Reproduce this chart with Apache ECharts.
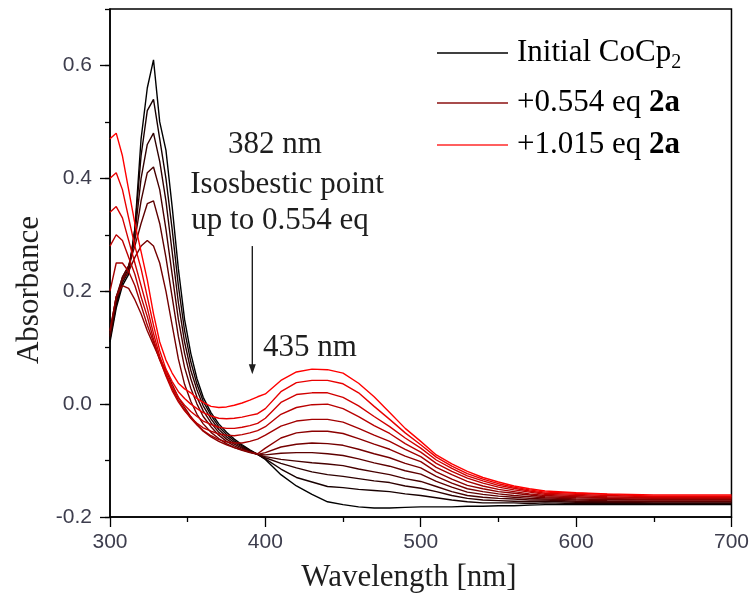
<!DOCTYPE html>
<html>
<head>
<meta charset="utf-8">
<script src="https://cdn.jsdelivr.net/npm/echarts@6/dist/echarts.min.js"></script>
<style>
  html, body { margin: 0; padding: 0; background: #fff; }
  #chart { width: 752px; height: 596px; }
</style>
</head>
<body>
<div id="chart"></div>
<script>
// Wavelength grid (nm) shared by every spectrum
const wavelengths = [300,304,308,312,316,320,324,328,332,336,340,344,348,352,356,
  360,365,370,375,380,385,390,395,400,410,420,430,440,450,460,470,480,490,500,
  510,520,530,540,550,560,570,580,600,620,650,700];

// Absorbance spectra during the titration of CoCp2 with 2a (0 -> 1.015 eq)
const spec0 = [0.11,0.17,0.21,0.23,0.31,0.47,0.56,0.61,0.50,0.45,0.35,0.24,0.15,0.09,0.045,0.012,-0.015,-0.035,-0.05,-0.062,-0.072,-0.081,-0.089,-0.098,-0.125,-0.145,-0.16,-0.173,-0.178,-0.182,-0.184,-0.184,-0.183,-0.182,-0.182,-0.182,-0.181,-0.181,-0.18,-0.18,-0.179,-0.178,-0.178,-0.178,-0.178,-0.178];
const spec1 = [0.115,0.175,0.215,0.235,0.31,0.44,0.52,0.54,0.47,0.40,0.31,0.21,0.13,0.075,0.035,0.005,-0.02,-0.04,-0.054,-0.065,-0.074,-0.082,-0.089,-0.097,-0.115,-0.13,-0.138,-0.146,-0.148,-0.151,-0.153,-0.155,-0.159,-0.162,-0.166,-0.17,-0.173,-0.175,-0.175,-0.175,-0.176,-0.175,-0.176,-0.176,-0.176,-0.176];
const spec2 = [0.12,0.18,0.22,0.24,0.30,0.40,0.46,0.48,0.43,0.36,0.27,0.18,0.11,0.06,0.025,-0.003,-0.026,-0.045,-0.058,-0.068,-0.076,-0.083,-0.089,-0.095,-0.105,-0.113,-0.12,-0.125,-0.128,-0.132,-0.136,-0.139,-0.145,-0.149,-0.155,-0.162,-0.167,-0.17,-0.171,-0.172,-0.173,-0.172,-0.174,-0.174,-0.175,-0.175];
const spec3 = [0.12,0.185,0.225,0.245,0.29,0.36,0.41,0.42,0.38,0.31,0.23,0.15,0.09,0.045,0.012,-0.012,-0.033,-0.05,-0.062,-0.071,-0.078,-0.084,-0.089,-0.093,-0.098,-0.101,-0.104,-0.106,-0.109,-0.115,-0.12,-0.125,-0.132,-0.137,-0.146,-0.155,-0.162,-0.165,-0.167,-0.168,-0.17,-0.17,-0.172,-0.173,-0.173,-0.173];
const spec4 = [0.125,0.19,0.225,0.245,0.28,0.32,0.355,0.36,0.32,0.26,0.19,0.12,0.065,0.028,0.0,-0.022,-0.04,-0.055,-0.066,-0.074,-0.08,-0.085,-0.089,-0.09,-0.087,-0.086,-0.086,-0.088,-0.091,-0.097,-0.104,-0.11,-0.118,-0.124,-0.137,-0.147,-0.156,-0.16,-0.163,-0.165,-0.167,-0.168,-0.17,-0.171,-0.172,-0.172];
const spec5 = [0.13,0.19,0.22,0.235,0.26,0.28,0.29,0.28,0.25,0.20,0.14,0.08,0.035,0.005,-0.018,-0.035,-0.05,-0.061,-0.07,-0.077,-0.082,-0.086,-0.089,-0.086,-0.076,-0.071,-0.069,-0.07,-0.073,-0.08,-0.088,-0.095,-0.105,-0.113,-0.128,-0.14,-0.15,-0.155,-0.159,-0.162,-0.164,-0.166,-0.168,-0.169,-0.17,-0.17];
const spec6 = [0.13,0.19,0.21,0.205,0.185,0.16,0.13,0.105,0.08,0.06,0.035,0.012,-0.006,-0.022,-0.036,-0.048,-0.058,-0.066,-0.072,-0.077,-0.081,-0.085,-0.088,-0.078,-0.06,-0.051,-0.048,-0.048,-0.052,-0.061,-0.071,-0.08,-0.092,-0.102,-0.12,-0.133,-0.144,-0.15,-0.155,-0.158,-0.161,-0.164,-0.166,-0.167,-0.169,-0.169];
const spec7 = [0.20,0.25,0.25,0.235,0.21,0.175,0.14,0.11,0.078,0.052,0.028,0.007,-0.01,-0.025,-0.037,-0.047,-0.056,-0.063,-0.067,-0.069,-0.069,-0.066,-0.062,-0.055,-0.039,-0.03,-0.027,-0.027,-0.032,-0.043,-0.055,-0.066,-0.08,-0.093,-0.112,-0.125,-0.137,-0.145,-0.151,-0.155,-0.159,-0.162,-0.164,-0.166,-0.167,-0.167];
const spec8 = [0.28,0.30,0.29,0.26,0.23,0.19,0.155,0.115,0.08,0.05,0.024,0.004,-0.012,-0.024,-0.034,-0.042,-0.048,-0.053,-0.055,-0.056,-0.054,-0.051,-0.047,-0.04,-0.018,-0.006,-0.001,0.0,-0.008,-0.022,-0.038,-0.052,-0.07,-0.085,-0.105,-0.119,-0.131,-0.14,-0.147,-0.152,-0.156,-0.16,-0.162,-0.164,-0.166,-0.166];
const spec9 = [0.34,0.35,0.33,0.29,0.25,0.21,0.17,0.125,0.085,0.055,0.03,0.012,-0.002,-0.013,-0.022,-0.03,-0.036,-0.041,-0.043,-0.043,-0.041,-0.038,-0.034,-0.025,0.003,0.017,0.02,0.02,0.012,-0.003,-0.022,-0.04,-0.06,-0.078,-0.099,-0.114,-0.127,-0.136,-0.144,-0.149,-0.154,-0.158,-0.16,-0.162,-0.164,-0.164];
const spec10 = [0.40,0.41,0.38,0.33,0.28,0.24,0.19,0.14,0.095,0.062,0.04,0.022,0.01,0.0,-0.008,-0.015,-0.021,-0.025,-0.026,-0.025,-0.023,-0.02,-0.017,-0.008,0.022,0.038,0.042,0.042,0.036,0.02,-0.004,-0.027,-0.051,-0.072,-0.094,-0.11,-0.123,-0.133,-0.141,-0.147,-0.152,-0.156,-0.158,-0.16,-0.163,-0.163];
const spec11 = [0.47,0.48,0.44,0.38,0.32,0.27,0.22,0.16,0.11,0.078,0.055,0.037,0.027,0.02,0.01,0.003,-0.004,-0.006,-0.005,-0.002,0.002,0.007,0.013,0.018,0.042,0.057,0.062,0.061,0.055,0.037,0.013,-0.015,-0.043,-0.066,-0.09,-0.106,-0.119,-0.13,-0.138,-0.145,-0.15,-0.154,-0.157,-0.159,-0.161,-0.161];

const spectra = [spec0, spec1, spec2, spec3, spec4, spec5, spec6, spec7, spec8, spec9, spec10, spec11];
const equivalents = ['0', '0.092', '0.185', '0.277', '0.369', '0.462', '0.554', '0.646', '0.738', '0.831', '0.923', '1.015'];

// Tick values
const xTicks = [300, 400, 500, 600, 700];
const yTicks = [-0.2, 0.0, 0.2, 0.4, 0.6];

// Black -> dark red -> red, one shade per addition
const lineColors = ['#000000','#170000','#2e0000','#460000','#5d0000','#740000',
                    '#8b0000','#a20000','#b90000','#d10000','#e80000','#ff0000'];

const serif = '"Liberation Serif", "Times New Roman", serif';
const sans = '"Liberation Sans", Arial, sans-serif';
const tickLabelColor = '#3d3d4d';
const textColor = '#1e1e1e';

const chart = echarts.init(document.getElementById('chart'), null, { renderer: 'canvas' });

const series = spectra.map((s, i) => ({
  name: '+' + equivalents[i] + ' eq',
  type: 'line',
  xAxisIndex: 0,
  yAxisIndex: 0,
  data: wavelengths.map((w, j) => [w, s[j]]),
  showSymbol: false,
  symbol: 'none',
  lineStyle: { color: lineColors[i], width: 1.4 },
  itemStyle: { color: lineColors[i] },
  z: 2 + i
}));

chart.setOption({
  animation: false,
  backgroundColor: '#ffffff',
  grid: {
    left: 110, right: 20, top: 9, bottom: 79,
    show: true, borderColor: '#000', borderWidth: 1.5, backgroundColor: 'transparent'
  },
  xAxis: [{
    type: 'value', min: 300, max: 700, interval: 100,
    axisLine: { show: true, onZero: false, lineStyle: { color: '#000', width: 1.5 } },
    axisTick: { show: true, inside: false, length: 10, lineStyle: { color: '#000', width: 1.3 } },
    minorTick: { show: true, splitNumber: 2, length: 5, lineStyle: { color: '#000', width: 1.3 } },
    axisLabel: { margin: 15, fontFamily: sans, fontSize: 21, color: tickLabelColor,
                 customValues: xTicks },
    splitLine: { show: false }
  }],
  yAxis: [{
    type: 'value', min: -0.2, max: 0.7, interval: 0.1,
    axisLine: { show: true, onZero: false, lineStyle: { color: '#000', width: 1.5 } },
    axisTick: { show: true, inside: false, length: 5, lineStyle: { color: '#000', width: 1.3 } },
    axisLabel: {
      margin: 18, fontFamily: sans, fontSize: 21, color: tickLabelColor,
      customValues: yTicks,
      formatter: v => (Math.abs(Math.round(v * 10)) % 2 === 0 ? (Math.round(v * 10) / 10).toFixed(1) : '')
    },
    splitLine: { show: false }
  }, {
    type: 'value', min: -0.2, max: 0.7, interval: 0.2, position: 'left',
    axisLine: { show: false },
    axisTick: { show: true, inside: false, length: 10, customValues: yTicks,
                lineStyle: { color: '#000', width: 1.3 } },
    axisLabel: { show: false },
    splitLine: { show: false }
  }],
  series: series
});

// Annotation arrow at the isosbestic region, positioned in data space
const arrowTop = chart.convertToPixel({ gridIndex: 0 }, [391.6, 0.28]);
const arrowTip = chart.convertToPixel({ gridIndex: 0 }, [391.6, 0.053]);

const legendRows = [
  { y: 53, color: '#000000', rich: '{n|Initial CoCp}{s|2}' },
  { y: 103, color: '#8b1010', rich: '{n|+0.554 eq }{b|2a}' },
  { y: 145, color: '#ff2a2a', rich: '{n|+1.015 eq }{b|2a}' }
];

const richStyles = {
  n: { fontFamily: serif, fontSize: 31, color: textColor, lineHeight: 40 },
  b: { fontFamily: serif, fontSize: 31, fontWeight: 'bold', color: textColor, lineHeight: 40 },
  s: { fontFamily: serif, fontSize: 20, color: textColor, lineHeight: 20, verticalAlign: 'bottom' }
};

const graphics = [];
legendRows.forEach(r => {
  graphics.push({
    type: 'line', z: 50,
    shape: { x1: 437, y1: r.y, x2: 508, y2: r.y },
    style: { stroke: r.color, lineWidth: 1.6 }
  });
  graphics.push({
    type: 'text', z: 50, x: 517, y: r.y,
    style: { text: r.rich, rich: richStyles, verticalAlign: 'middle', align: 'left' }
  });
});

const plainText = (txt, x, y, align, extra) => Object.assign({
  type: 'text', z: 50, x: x, y: y,
  style: { text: txt, fontFamily: serif, fontSize: 31, fill: textColor,
           align: align, verticalAlign: 'middle' }
}, extra || {});

graphics.push(plainText('382 nm', 275, 145, 'center'));
graphics.push(plainText('Isosbestic point', 287, 185, 'center'));
graphics.push(plainText('up to 0.554 eq', 280, 221, 'center'));
graphics.push(plainText('435 nm', 263, 348, 'left'));
graphics.push(plainText('Wavelength [nm]', 409, 578, 'center'));
graphics.push(plainText('Absorbance', 30, 290, 'center', { rotation: Math.PI / 2 }));

graphics.push({
  type: 'line', z: 50,
  shape: { x1: arrowTop[0], y1: arrowTop[1], x2: arrowTip[0], y2: arrowTip[1] - 8 },
  style: { stroke: '#1e1e1e', lineWidth: 1.4 }
});
graphics.push({
  type: 'polygon', z: 50,
  shape: { points: [[arrowTip[0] - 3.5, arrowTip[1] - 10], [arrowTip[0] + 3.5, arrowTip[1] - 10], [arrowTip[0], arrowTip[1]]] },
  style: { fill: '#1e1e1e' }
});

chart.setOption({ graphic: graphics });
</script>
</body>
</html>
